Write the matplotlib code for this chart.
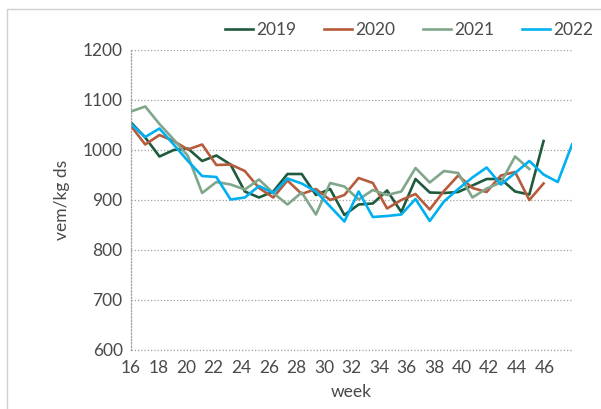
import matplotlib
matplotlib.use("Agg")
import matplotlib.pyplot as plt
from matplotlib.patches import Rectangle
import numpy as np

plt.rcParams['font.family'] = ['Lato', 'DejaVu Sans']

# weekly energy values (vem/kg ds), one value per sample, first sample = week 16
vem_2019 = [1055, 1025, 987, 1000, 1003, 978, 989, 971, 917, 905, 917, 952, 952, 910,
            922, 870, 891, 893, 919, 876, 942, 915, 914, 916, 929, 942, 942, 917, 911,
            1018]
vem_2020 = [1048, 1011, 1030, 1018, 1001, 1011, 970, 971, 958, 924, 905, 939, 912, 922,
            900, 910, 944, 934, 883, 900, 912, 881, 918, 949, 924, 916, 949, 956, 900,
            933]
vem_2021 = [1077, 1087, 1052, 1021, 988, 914, 936, 931, 921, 941, 914, 891, 915, 871,
            934, 927, 901, 920, 910, 917, 964, 935, 958, 954, 905, 923, 935, 987, 962]
vem_2022 = [1052, 1026, 1043, 1011, 978, 948, 946, 901, 905, 928, 914, 943, 933, 917,
            887, 857, 917, 866, 868, 871, 902, 858, 897, 922, 945, 965, 931, 954, 978,
            951, 936, 1011]

week_labels = list(range(16, 47, 2))
first_week, last_week = 16, 48

series = [("2019", vem_2019, "#1f5a3d"),
          ("2020", vem_2020, "#b65b3b"),
          ("2021", vem_2021, "#80a78b"),
          ("2022", vem_2022, "#00b0f0")]

n_max = max(len(s[1]) for s in series)
txt = '#4a4a4a'

fig = plt.figure(figsize=(6.01, 4.09), dpi=100)
ax = fig.add_axes([131 / 601, 1 - 350 / 409, 441 / 601, 300 / 409])

for name, v, c in series:
    ax.plot(np.arange(len(v)), v, color=c, lw=1.9, label=name)

# category axis: week labels spread over the full width
span = n_max - 1
scale = span / (last_week - first_week)
ax.set_xlim(0, span)
ax.set_ylim(600, 1200)
ax.set_yticks(range(600, 1201, 100))
ax.set_xticks([(w - first_week) * scale for w in week_labels])
ax.set_xticklabels([str(w) for w in week_labels])
ax.set_xticks([(w - first_week) * scale for w in week_labels[1:]], minor=True)

dot = (0, (1, 1.6))
ax.grid(axis='y', color='#a0a0a0', lw=0.9, linestyle=dot)
for s in ['top', 'right', 'bottom']:
    ax.spines[s].set_visible(False)
ax.spines['left'].set_linestyle(dot)
ax.spines['left'].set_color('#a0a0a0')
ax.spines['left'].set_linewidth(0.9)
ax.axhline(600, color='#a0a0a0', lw=0.9, linestyle=dot, clip_on=False)

ax.tick_params(axis='y', length=0, pad=6, labelsize=12.5, labelcolor=txt)
ax.tick_params(axis='x', which='major', length=0, pad=7, labelsize=12.5, labelcolor=txt)
ax.tick_params(axis='x', which='minor', direction='in', length=9, width=0.9, color='#c8c8c8')

ax.set_xlabel('week', fontsize=12.5, color=txt, labelpad=6)
ax.set_ylabel('vem/kg ds', fontsize=12.5, color=txt, labelpad=9)

fig.legend(loc='center', bbox_to_anchor=(409 / 601, 1 - 30 / 409), ncol=4, frameon=False,
           fontsize=12.5, handlelength=1.6, handletextpad=0.2, columnspacing=1.6,
           labelcolor=txt)

fig.patches.append(Rectangle((7 / 601, -0.1), 1.2, 1 - 9 / 409 + 0.1, transform=fig.transFigure,
                             fill=False, edgecolor='#d0d0d0', lw=1))

fig.savefig('out.png', dpi=100)
